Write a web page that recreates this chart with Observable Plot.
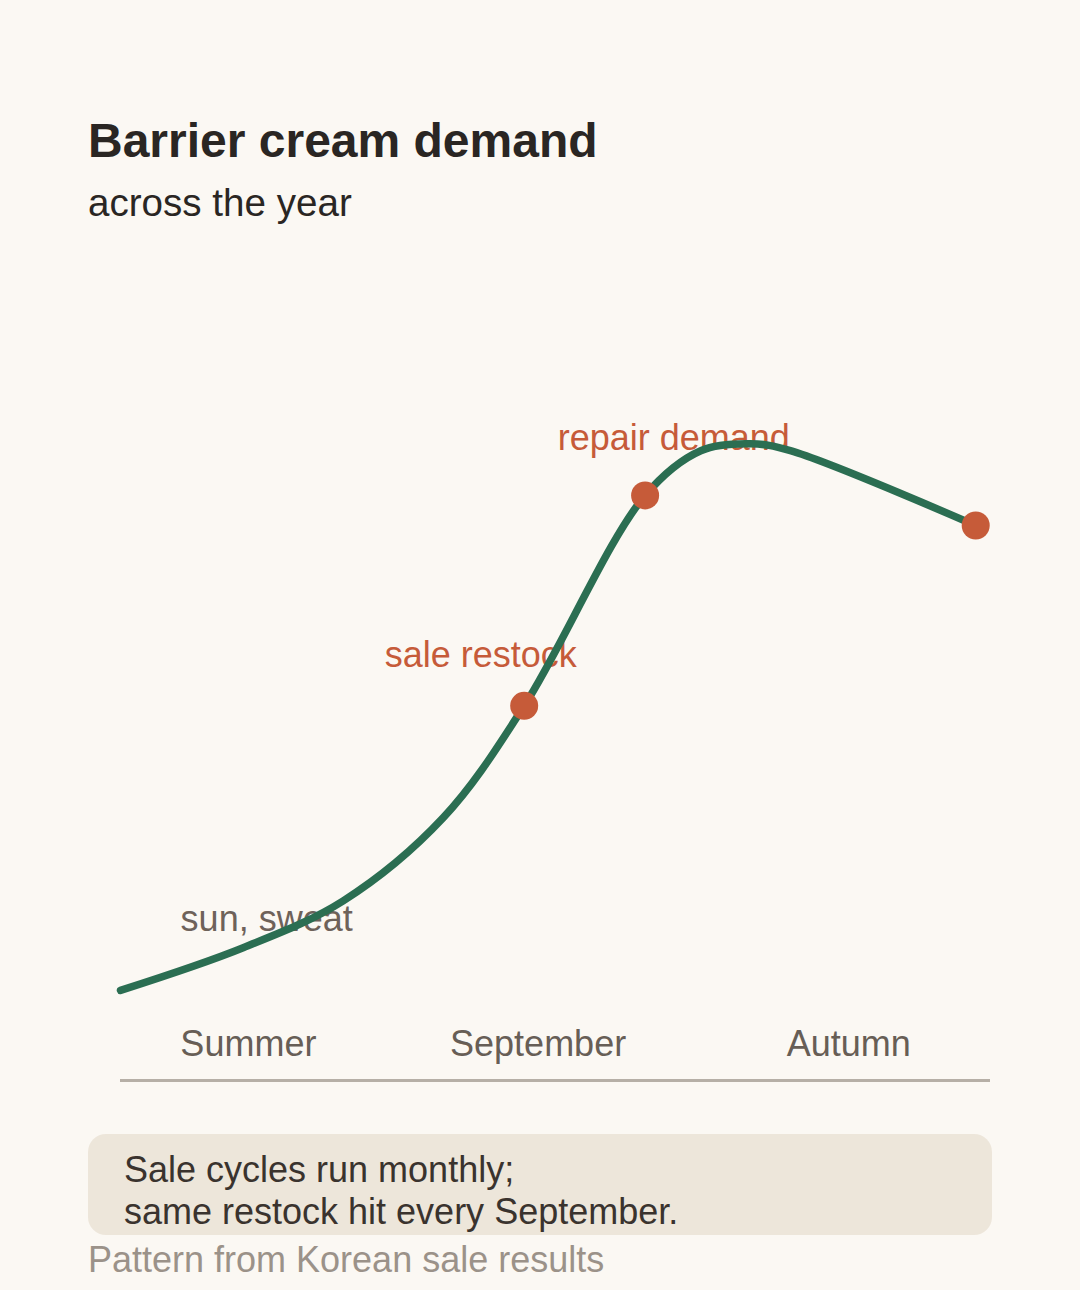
<!DOCTYPE html>
<html>
<head>
<meta charset="utf-8">
<script src="https://cdn.jsdelivr.net/npm/d3@7"></script>
<script src="https://cdn.jsdelivr.net/npm/@observablehq/plot@0.6"></script>
<style>
  html, body { margin: 0; padding: 0; background: #fbf8f3; }
  body { width: 1080px; height: 1290px; overflow: hidden; font-family: "Liberation Sans", Arial, sans-serif; }
  .title { margin: 113px 0 0 88px; font-size: 48px; line-height: 56px; font-weight: bold; color: #2a2623; }
  .subtitle { margin: 11px 0 0 88px; font-size: 38.6px; line-height: 46px; color: #2a2623; }
  #chart svg { display: block; }
  .note { margin: 33px 88px 0 88px; background: #ede6da; border-radius: 18px; padding: 15px 36px 2px 36px; font-size: 36px; line-height: 42px; color: #3a332e; }
  .caption { margin: 4px 0 0 88px; font-size: 36px; line-height: 42px; color: #9b9289; }
</style>
</head>
<body>
<div class="title">Barrier cream demand</div>
<div class="subtitle">across the year</div>
<div id="chart"></div>
<div class="note">Sale cycles run monthly;<br>same restock hit every September.</div>
<div class="caption">Pattern from Korean sale results</div>
<script>
// Demand curve (x: position across the year 0–100, y: demand index 0–100)
const pointX = [0, 14.1, 25.6, 37.1, 46.4, 60.3, 66.7, 72.4, 77.0, 98.3];
const pointY = [12.9, 19.0, 25.7, 37.6, 53.6, 83.7, 90.1, 91.1, 90.1, 79.4];
const highlighted = [false, false, false, false, true, true, false, false, false, true];

// Period labels along the axis
const tickLabels = ["Summer", "September", "Autumn"];
const tickX = [14.7, 48, 83.7];

// Annotations
const noteText = ["sun, sweat", "sale restock", "repair demand"];
const noteX = [16.8, 41.4, 63.6];
const noteY = [23.1, 60.8, 91.8];
const noteKind = ["context", "event", "event"];

const points = pointX.map((x, i) => ({x, y: pointY[i], hi: highlighted[i]}));
const ticks = tickLabels.map((label, i) => ({label, x: tickX[i]}));
const notes = noteText.map((text, i) => ({text, x: noteX[i], y: noteY[i], kind: noteKind[i]}));

const chart = Plot.plot({
  width: 1080,
  height: 875,
  marginLeft: 120,
  marginRight: 90,
  marginTop: 155,
  marginBottom: 21,
  x: {domain: [0, 100], axis: null},
  y: {domain: [0, 100], axis: null},
  style: {background: "transparent", fontFamily: "'Liberation Sans', Arial, sans-serif"},
  marks: [
    Plot.ruleY([0], {stroke: "#b6afa6", strokeWidth: 3}),
    Plot.text(ticks, {x: "x", frameAnchor: "bottom", lineAnchor: "middle", dy: -36, text: "label", fontSize: 36, fill: "#675e56"}),
    Plot.text(notes, {x: "x", y: "y", text: "text", fontSize: 36,
      fill: d => d.kind === "event" ? "#c65b39" : "#6e625a"}),
    Plot.line(points, {x: "x", y: "y", curve: "catmull-rom", stroke: "#2b6e52", strokeWidth: 7.5, strokeLinecap: "round", strokeLinejoin: "round"}),
    Plot.dot(points.filter(d => d.hi), {x: "x", y: "y", r: 14, fill: "#c65b39", stroke: "none"})
  ]
});
document.getElementById("chart").appendChild(chart);
</script>
</body>
</html>
